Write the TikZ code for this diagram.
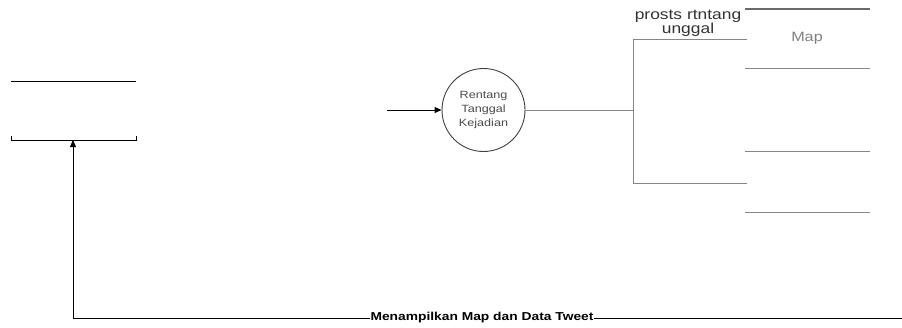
\documentclass[tikz,border=0pt]{standalone}
\usepackage{fontspec}
\setmainfont{Liberation Sans}
\newfontfamily\widefont[FakeStretch=1.2]{Liberation Sans}
\usetikzlibrary{arrows.meta}
\definecolor{lgray}{HTML}{8A8686}
\definecolor{dgray}{HTML}{6E6868}
\begin{document}
\begin{tikzpicture}[x=1pt,y=-1pt,
  blk/.style={draw=black,line width=0.9pt},
  gl/.style={draw=lgray,line width=0.9pt},
  arr/.style={-{Triangle[length=7pt,width=6pt]}},
  procnode/.style={circle,draw=black!75,line width=0.9pt,minimum size=83pt,inner sep=0pt,align=center,font=\widefont\fontsize{10.5}{14}\selectfont,text=black!70}]
\useasboundingbox (0,0) rectangle (902,327);
% left data store
\coordinate (s1a) at (11,81); \coordinate (s1b) at (136,81);
\draw[blk] (s1a) -- (s1b);
\coordinate (s2a) at (11,136); \coordinate (s2b) at (136,136);
\coordinate (s2) at (73,140);
\draw[blk] (s2a) -- (11,140) -- (136,140) -- (s2b);
% process
\node[procnode] (p) at (483.5,110) {Rentang\\Tanggal\\Kejadian};
\coordinate (in) at (387,110);
\draw[blk,arr] (in) -- (p.west);
% right branches
\coordinate (j) at (633,110);
\coordinate (jt) at (633,39); \coordinate (jb) at (633,183);
\coordinate (jte) at (747,39); \coordinate (jbe) at (747,183);
\draw[gl] (p.east) -- (j);
\draw[gl] (jt) -- (jb);
\draw[gl] (jt) -- (jte);
\draw[gl] (jb) -- (jbe);
\node[font=\widefont\fontsize{14.5}{14}\selectfont,text=black!80,align=center,inner sep=0pt] (lbl) at (688,23) {prosts rtntang\\unggal};
% right store lines
\coordinate (r1a) at (745,9); \coordinate (r1b) at (870,9);
\draw[draw=dgray,line width=2pt] (r1a) -- (r1b);
\node[font=\widefont\fontsize{13.5}{15}\selectfont,text=black!50] (map) at (807,38) {Map};
\coordinate (r2a) at (745,68); \coordinate (r2b) at (870,68);
\coordinate (r3a) at (745,151); \coordinate (r3b) at (870,151);
\coordinate (r4a) at (745,212); \coordinate (r4b) at (870,212);
\draw[gl] (r2a) -- (r2b);
\draw[gl] (r3a) -- (r3b);
\draw[gl] (r4a) -- (r4b);
% bottom return flow
\coordinate (e) at (902,318);
\draw[blk,arr] (e) -- (73,318) -- (s2);
\node[fill=white,inner sep=1pt,font=\widefont\fontsize{11.5}{13}\selectfont\bfseries] (ml) at (482,318) {Menampilkan Map dan Data Tweet};
\end{tikzpicture}
\end{document}
